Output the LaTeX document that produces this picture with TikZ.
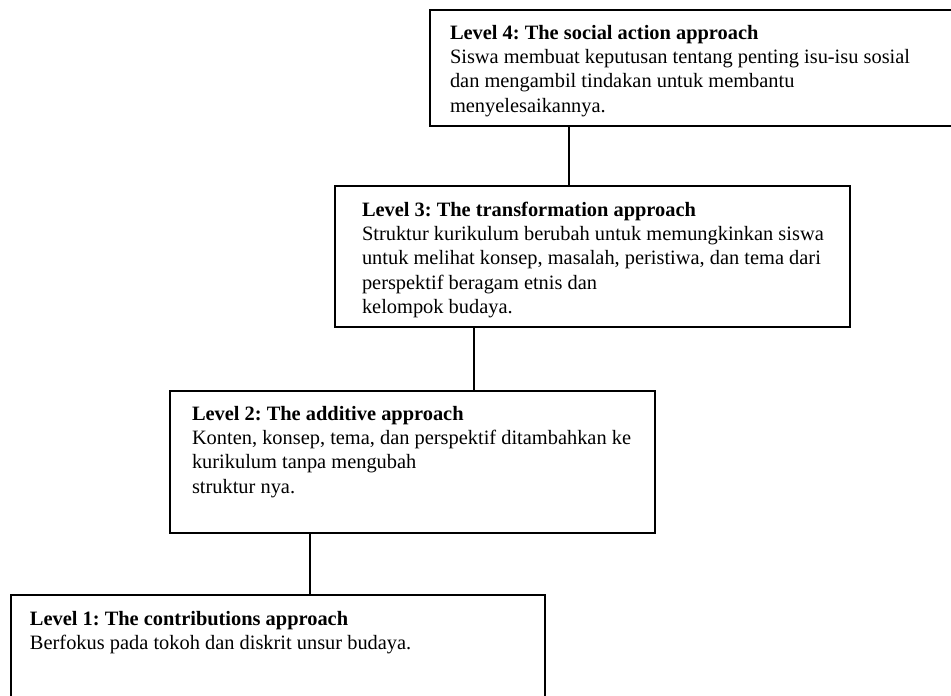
\documentclass[tikz,border=0pt]{standalone}
\usepackage{fontspec}
\setmainfont{Liberation Serif}
\frenchspacing
\newcommand{\boxtext}[1]{\parbox[t]{700pt}{\raggedright\frenchspacing\fontsize{20.4}{24.4}\selectfont #1}}
\begin{document}
\begin{tikzpicture}[x=1pt,y=1pt,
  box/.style={draw=black,line width=1.5pt,inner sep=0pt,outer sep=0pt,anchor=north west,rectangle},
  txt/.style={anchor=base west,inner sep=0pt,outer sep=0pt},
  link/.style={draw=black,line width=1.5pt}]
\useasboundingbox (0,0) rectangle (951,-696);
\node[box,minimum width=530pt,minimum height=116pt] (b4) at (430,-10) {};
\node[box,minimum width=515pt,minimum height=141pt] (b3) at (335,-186) {};
\node[box,minimum width=485pt,minimum height=142pt] (b2) at (170,-391) {};
\node[box,minimum width=534pt,minimum height=130pt] (b1) at (11,-595) {};
\node[txt] (t4) at (450,-39) {\boxtext{\textbf{Level 4: The social action approach}\\Siswa membuat keputusan tentang penting isu-isu sosial\\dan mengambil tindakan untuk membantu\\menyelesaikannya.}};
\node[txt] (t3) at (362,-216) {\boxtext{\textbf{Level 3: The transformation approach}\\Struktur kurikulum berubah untuk memungkinkan siswa\\untuk melihat konsep, masalah, peristiwa, dan tema dari\\perspektif beragam etnis dan\\kelompok budaya.}};
\node[txt] (t2) at (192,-420) {\boxtext{\textbf{Level 2: The additive approach}\\Konten, konsep, tema, dan perspektif ditambahkan ke\\kurikulum tanpa mengubah\\struktur nya.}};
\node[txt] (t1) at (30,-625) {\boxtext{\textbf{Level 1: The contributions approach}\\Berfokus pada tokoh dan diskrit unsur budaya.}};
\coordinate (c43) at (569,0);
\coordinate (c32) at (474,0);
\coordinate (c21) at (310,0);
\draw[link] (c43 |- b4.south) -- (c43 |- b3.north);
\draw[link] (c32 |- b3.south) -- (c32 |- b2.north);
\draw[link] (c21 |- b2.south) -- (c21 |- b1.north);
\end{tikzpicture}
\end{document}
